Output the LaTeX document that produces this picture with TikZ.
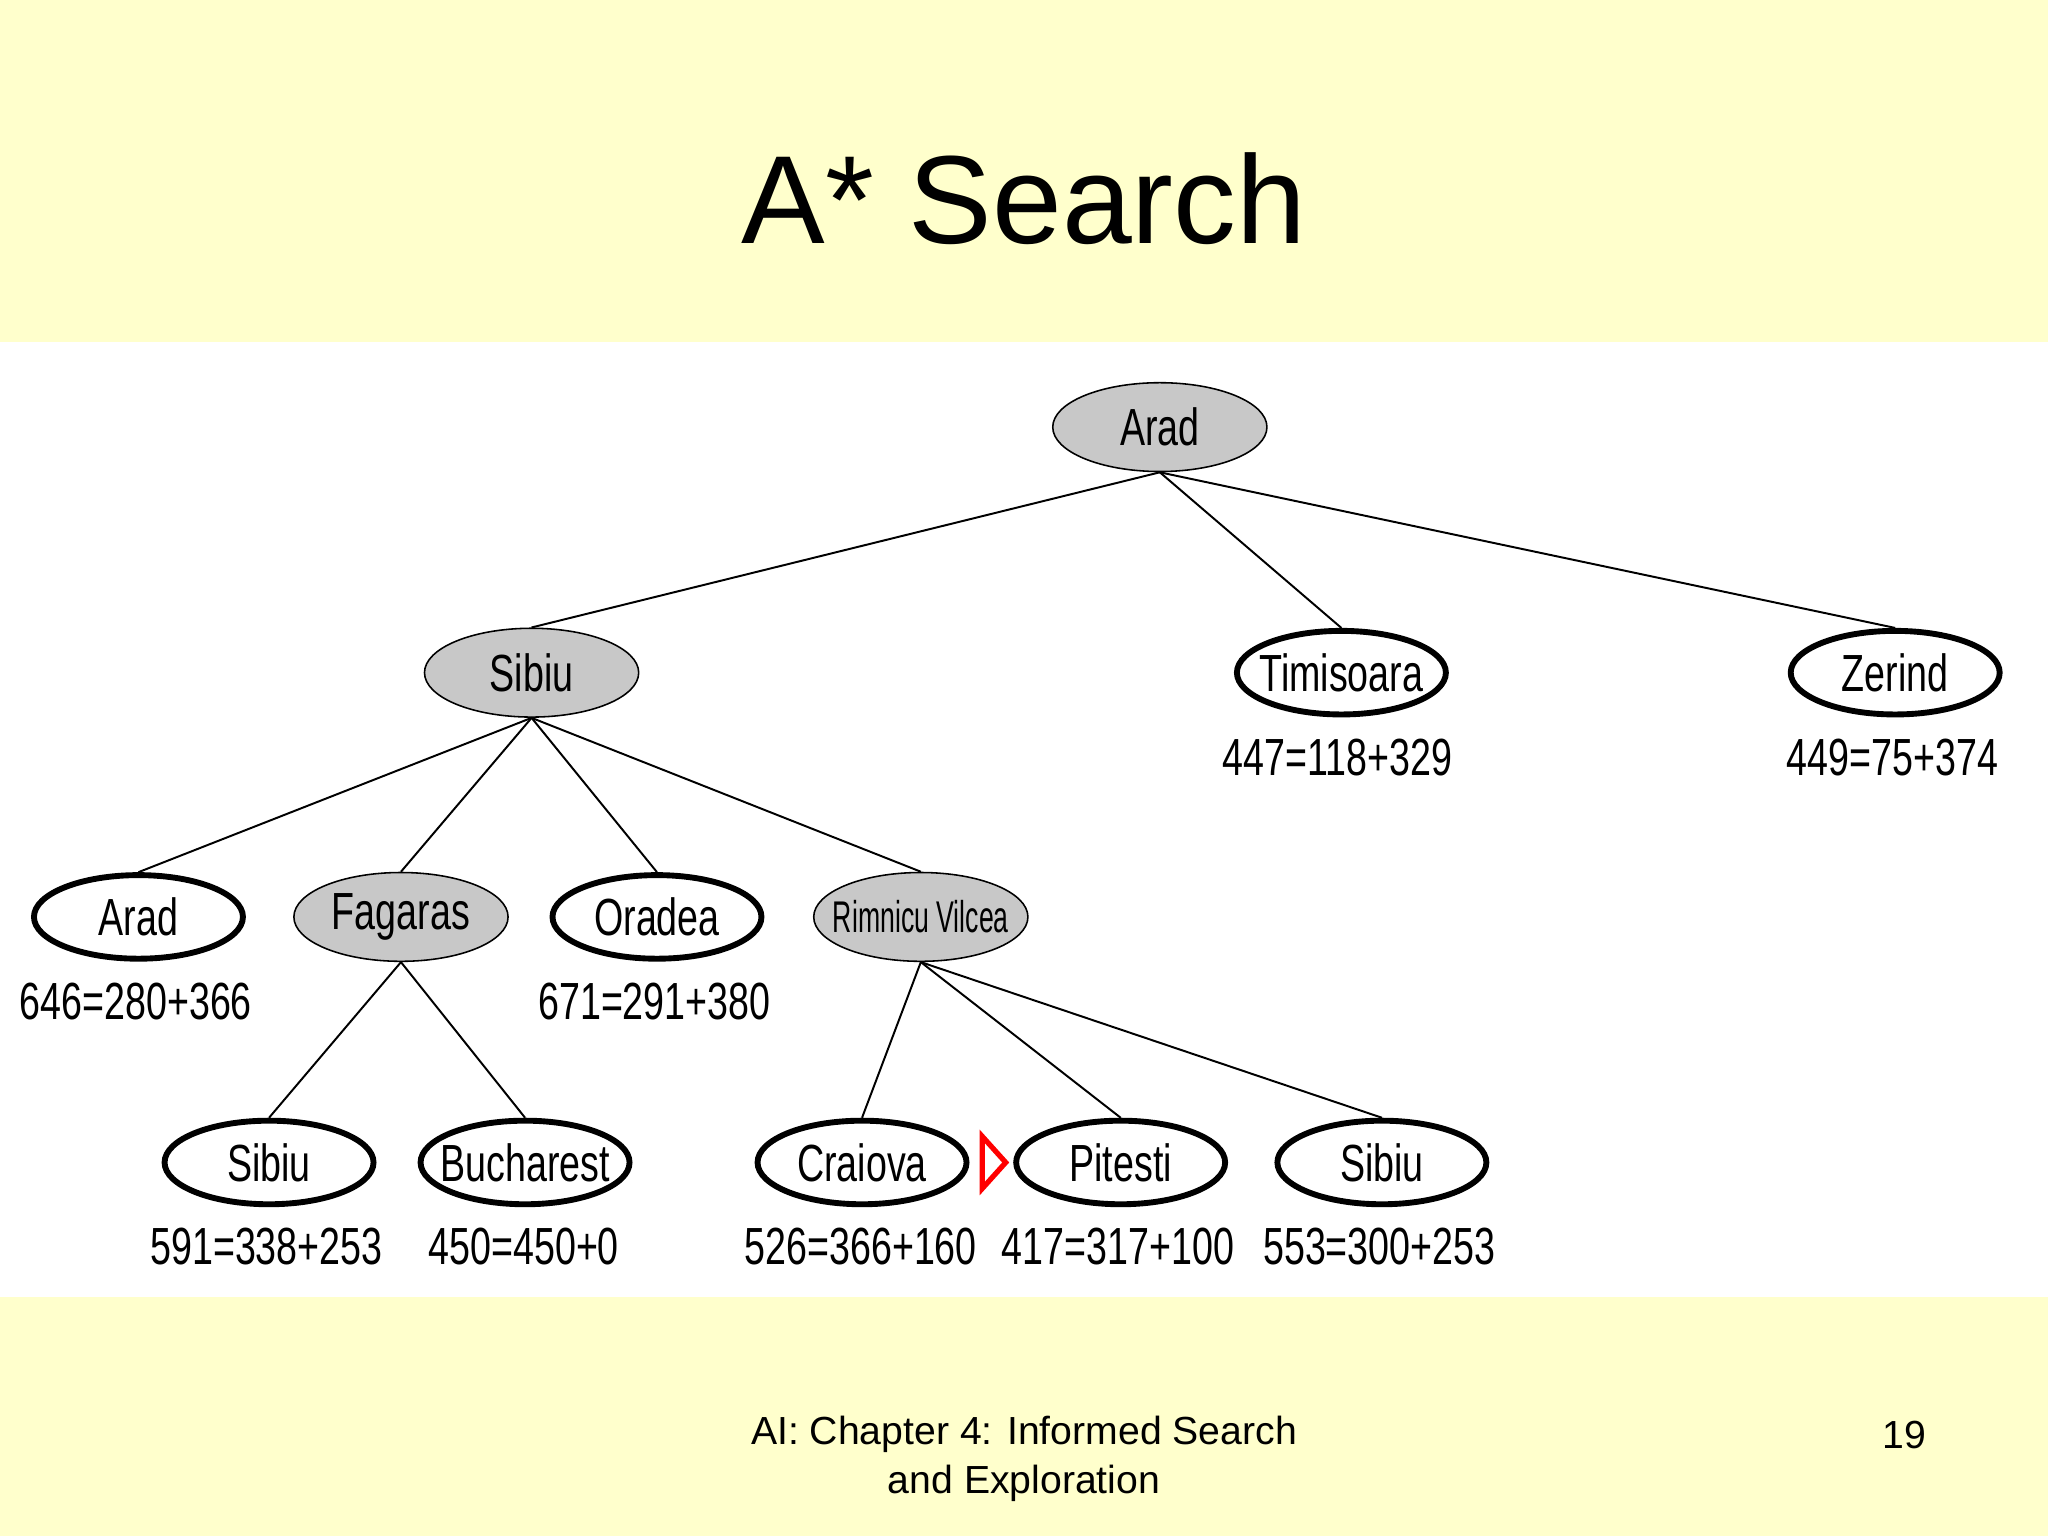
\documentclass[tikz,border=0pt]{standalone}
\usepackage{fontspec}
\setmainfont{Liberation Sans}
\newfontfamily\narrow[FakeStretch=0.72]{Liberation Sans}
\newfontfamily\rimfont[FakeStretch=0.6]{Liberation Sans}
\usetikzlibrary{shapes.geometric}
\definecolor{bgy}{HTML}{FFFFCC}
\definecolor{gfill}{HTML}{C8C8C8}
\newcommand{\zb}[1]{\makebox[0pt]{#1}}
\tikzset{
 op/.style={ellipse,draw,line width=4.5pt,fill=white,minimum width=160pt,minimum height=64pt,inner sep=0pt,font=\narrow\fontsize{40}{40}\selectfont},
 cl/.style={ellipse,draw,line width=1.2pt,fill=gfill,minimum width=164pt,minimum height=68pt,inner sep=0pt,font=\narrow\fontsize{40}{40}\selectfont},
 lab/.style={font=\narrow\fontsize{40}{40}\selectfont,inner sep=0pt},
 ed/.style={line width=1.5pt}
}
\begin{document}
\begin{tikzpicture}[x=1pt,y=-1pt]
\useasboundingbox (0,0) rectangle (1568,1176);
\fill[bgy] (0,0) rectangle (1568,1176);
\fill[white] (0,262) rectangle (1568,993);
\node[font=\fontsize{96}{96}\selectfont] (title) at (784,152) {A* Search};
\node[cl] (arad) at (888,327) {\zb{Arad}};
\node[cl] (sibiu) at (407,515) {\zb{Sibiu}};
\node[op] (tim) at (1027,515) {\zb{Timisoara}};
\node[op] (zer) at (1451,515) {\zb{Zerind}};
\node[op] (arad2) at (106,702) {\zb{Arad}};
\node[cl] (fag) at (307,702) {\zb{Fagaras}};
\node[op] (ora) at (503,702) {\zb{Oradea}};
\node[cl,font=\rimfont\fontsize{34}{34}\selectfont] (rim) at (705,702) {\zb{Rimnicu Vilcea}};
\node[op] (sib3) at (206,890) {\zb{Sibiu}};
\node[op] (buc) at (402,890) {\zb{Bucharest}};
\node[op] (cra) at (660,890) {\zb{Craiova}};
\node[op] (pit) at (858,890) {\zb{Pitesti}};
\node[op] (sib4) at (1058,890) {\zb{Sibiu}};
\draw[ed] (arad.south) -- (sibiu.north);
\draw[ed] (arad.south) -- (tim.north);
\draw[ed] (arad.south) -- (zer.north);
\draw[ed] (sibiu.south) -- (arad2.north);
\draw[ed] (sibiu.south) -- (fag.north);
\draw[ed] (sibiu.south) -- (ora.north);
\draw[ed] (sibiu.south) -- (rim.north);
\draw[ed] (fag.south) -- (sib3.north);
\draw[ed] (fag.south) -- (buc.north);
\draw[ed] (rim.south) -- (cra.north);
\draw[ed] (rim.south) -- (pit.north);
\draw[ed] (rim.south) -- (sib4.north);
\node[lab] (lt) at (1024,580) {447=118+329};
\node[lab] (lz) at (1449,580) {449=75+374};
\node[lab] (la2) at (104,767) {646=280+366};
\node[lab] (lo) at (501,767) {671=291+380};
\node[lab] (ls3) at (204,954) {591=338+253};
\node[lab] (lb) at (401,954) {450=450+0};
\node[lab] (lc) at (659,954) {526=366+160};
\node[lab] (lp) at (856,954) {417=317+100};
\node[lab] (ls4) at (1056,954) {553=300+253};
\draw[red,line width=4pt,line join=miter] (752,870) -- (770,890) -- (752,910) -- cycle;
\node[align=center,font=\fontsize{30}{37}\selectfont] (foot) at (784,1117) {AI: Chapter 4: Informed Search\\and Exploration};
\node[font=\fontsize{30}{30}\selectfont] (pg) at (1458,1099) {19};
\end{tikzpicture}
\end{document}
